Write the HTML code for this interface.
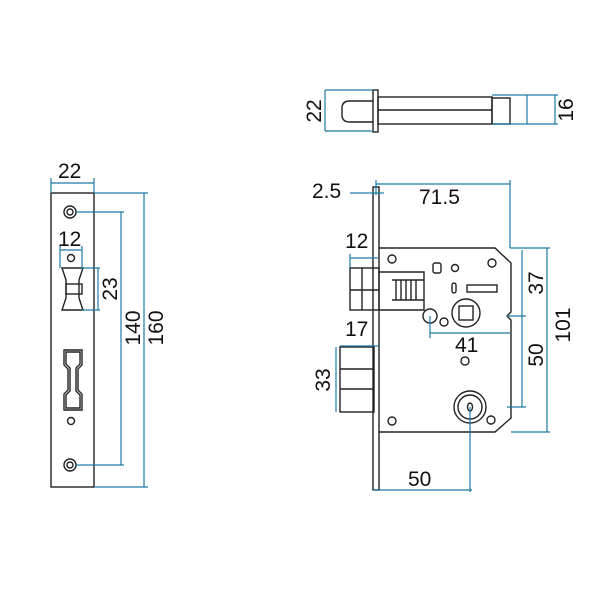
<!DOCTYPE html><html><head><style>body{margin:0;background:#fff}svg{display:block}text{font-family:"Liberation Sans",sans-serif;font-size:21px;fill:#111}</style></head><body>
<svg width="600" height="600" viewBox="0 0 600 600">
<g fill="none" stroke="#222" stroke-width="1.4">
<!-- faceplate front -->
<rect x="51" y="193" width="43" height="294"/>
<circle cx="70" cy="212" r="6"/><circle cx="70" cy="212" r="3"/>
<circle cx="70" cy="465" r="6"/><circle cx="70" cy="465" r="3"/>
<circle cx="71" cy="258" r="3.5"/><circle cx="71" cy="421" r="3.5"/>
<path d="M62 268 H83 L79 280 V298 L83 310 H62 L66 298 V280 Z"/>
<rect x="66" y="284" width="16" height="10"/>
<path d="M64 350 H82 V365 L78 369 V390 L82 394 V410 H64 V394 L68 390 V369 L64 365 Z"/>
<path d="M66 352 H80 V364 L76 368 V391 L80 395 V408 H66 V395 L70 391 V368 L66 364 Z"/>
<!-- top bolt view -->
<rect x="373" y="90" width="5" height="42"/>
<rect x="378" y="97" width="114" height="27"/>
<line x1="378" y1="110" x2="492" y2="110"/>
<path d="M373 101 H350 Q342 101 342 108 V115 Q342 122 350 122 H373"/>
<rect x="492" y="98" width="18" height="26"/>
<!-- side case -->
<rect x="373" y="187" width="6" height="303"/>
<path d="M379 248 H495 L511 263 V312 L507 316 L511 320 V418 L495 432 H379"/>
<rect x="350" y="268" width="29" height="42"/>
<line x1="362" y1="268" x2="362" y2="310"/><line x1="350" y1="290" x2="379" y2="290"/>
<path d="M379 272 H424 V310 H379"/>
<path d="M392 280 H424 M392 300 H424 M396 280 V300 M401 280 V300 M406 280 V300 M411 280 V300 M416 280 V300"/>
<rect x="340" y="347" width="34" height="65"/>
<line x1="340" y1="369" x2="374" y2="369"/><line x1="340" y1="389" x2="374" y2="389"/>
<circle cx="430" cy="316" r="7"/>
<circle cx="466" cy="313" r="14"/><rect x="459" y="306" width="14" height="14"/>
<circle cx="470" cy="407" r="16"/><circle cx="470" cy="407" r="12"/><ellipse cx="470" cy="407" rx="2.5" ry="4"/>
<rect x="467" y="285" width="30" height="7"/><rect x="452" y="283" width="4" height="10" rx="2"/>
<rect x="433" y="263" width="8" height="10" rx="2"/>
<g><circle cx="392" cy="259" r="4"/><circle cx="492" cy="263" r="4"/><circle cx="392" cy="421" r="4"/><circle cx="491" cy="420" r="4"/><circle cx="444" cy="322" r="4"/><circle cx="465" cy="361" r="4"/><circle cx="455" cy="268" r="3.5"/></g>
</g>
<g fill="none" stroke="#1f7aa8" stroke-width="1.2">
<path d="M51 183 H94 M51 178 V193 M94 178 V193"/>
<path d="M94 193 H148 M94 487 H148 M144 193 V487"/>
<path d="M76 212 H124 M76 465 H124 M121 212 V465"/>
<path d="M60 250 H82 M60 246 V268 M82 246 V268"/>
<path d="M82 268 H100 M82 310 H100 M98 268 V310"/>
<path d="M325 90 H373 M325 131 H373 M325 90 V131"/>
<path d="M492 95 H558 M492 124 H558 M555 95 V124 M527 95 V124"/>
<path d="M350 193 H384 M376 184 H510 M376 180 V195 M510 180 V248"/>
<path d="M350 258 H378 M350 254 V268"/>
<path d="M340 346 H379 M336 347 V412"/>
<path d="M510 248 H550 M547 248 V432 M511 432 H550 M522 250 V407 M507 407 H526 M507 316 H526"/>
<path d="M430 316 V338 M430 333 H510"/>
<path d="M373 490 H472 M470 407 V492"/>
</g>
<text x="58" y="178">22</text>
<text x="58" y="246">12</text>
<text transform="translate(117,289) rotate(-90)" text-anchor="middle">23</text>
<text transform="translate(140,328) rotate(-90)" text-anchor="middle">140</text>
<text transform="translate(163,328) rotate(-90)" text-anchor="middle">160</text>
<text transform="translate(321,111) rotate(-90)" text-anchor="middle">22</text>
<text transform="translate(573,110) rotate(-90)" text-anchor="middle">16</text>
<text x="312" y="198">2.5</text>
<text x="419" y="204">71.5</text>
<text x="345" y="248">12</text>
<text x="345" y="336">17</text>
<text transform="translate(330,380) rotate(-90)" text-anchor="middle">33</text>
<text x="455" y="352">41</text>
<text transform="translate(543,283) rotate(-90)" text-anchor="middle">37</text>
<text transform="translate(543,355) rotate(-90)" text-anchor="middle">50</text>
<text transform="translate(570,325) rotate(-90)" text-anchor="middle">101</text>
<text x="408" y="486">50</text>
</svg></body></html>
